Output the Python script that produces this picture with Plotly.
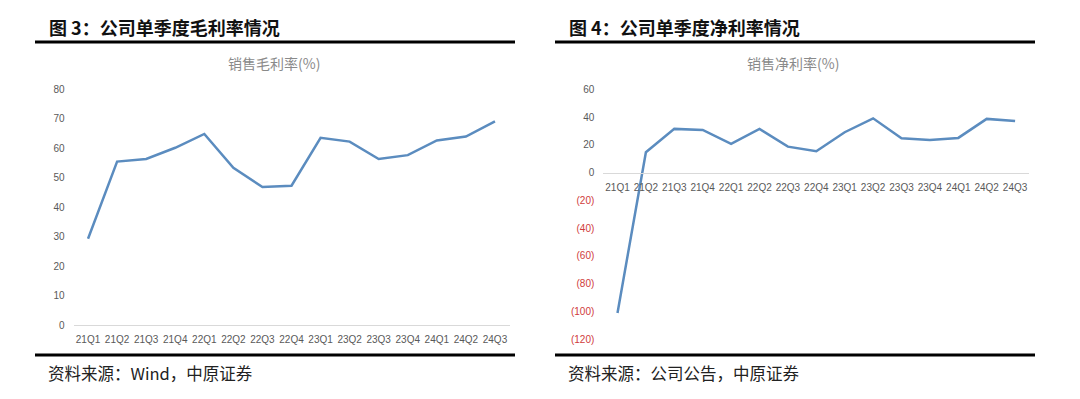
import plotly.graph_objects as go

# ---- data ----
quarters = ["21Q1", "21Q2", "21Q3", "21Q4", "22Q1", "22Q2", "22Q3", "22Q4",
            "23Q1", "23Q2", "23Q3", "23Q4", "24Q1", "24Q2", "24Q3"]
gross_margin = [29.3, 55.5, 56.4, 60.2, 64.9, 53.4, 46.9, 47.3,
                63.6, 62.3, 56.4, 57.7, 62.7, 64.0, 69.2]
net_margin = [-101.0, 14.7, 31.5, 30.7, 20.7, 31.5, 18.7, 15.4,
              29.1, 39.1, 24.7, 23.5, 25.0, 38.7, 37.2]
gm_ticks = [0, 10, 20, 30, 40, 50, 60, 70, 80]
nm_ticks = [-120, -100, -80, -60, -40, -20, 0, 20, 40, 60]

titles = ["图 3：公司单季度毛利率情况", "图 4：公司单季度净利率情况"]
subtitles = ["销售毛利率(%)", "销售净利率(%)"]
sources = ["资料来源：Wind，中原证券", "资料来源：公司公告，中原证券"]

# page body has an 8px margin; figure covers window pixels 8..1072 x 8..391
OFF = 8
W, H = 1064, 383
def fx(x):
    return (x - OFF) / W
def fy(y):
    return 1 - (y - OFF) / H

LINE = "#5B8CBF"
TICK = "#595959"
NEG = "#D03B3B"
AXIS = "#D9D9D9"
CJK = "Noto Sans CJK SC"

def fmt(v):
    if v < 0:
        return f'<span style="color:{NEG}">({abs(v)})</span>'
    return str(v)

fig = go.Figure()
fig.add_trace(go.Scatter(x=quarters, y=gross_margin, mode="lines",
                         line=dict(color=LINE, width=2.5),
                         xaxis="x", yaxis="y", hoverinfo="x+y"))
fig.add_trace(go.Scatter(x=quarters, y=net_margin, mode="lines",
                         line=dict(color=LINE, width=2.5),
                         xaxis="x2", yaxis="y2", hoverinfo="x+y"))

# domains (pixels -> paper)
y1_dom = [fy(325), fy(89.5)]
y2_dom = [fy(339.3), fy(89.3)]
y2_range = [min(nm_ticks), max(nm_ticks)]
zero_pos = y2_dom[0] + (0 - y2_range[0]) / (y2_range[1] - y2_range[0]) * (y2_dom[1] - y2_dom[0])
x_range = [-0.5, len(quarters) - 0.5]

tickfont = dict(family="Liberation Sans, Arial", size=10, color=TICK)
NOTICK = "rgba(0,0,0,0)"

fig.update_layout(
    template="none",
    width=W, height=H,
    margin=dict(l=0, r=0, t=0, b=0, pad=0, autoexpand=False),
    paper_bgcolor="white", plot_bgcolor="white",
    showlegend=False,
    xaxis=dict(domain=[fx(73.5), fx(509.5)], anchor="y", type="category",
               range=x_range,
               showgrid=False, showline=True, linecolor=AXIS, linewidth=1,
               ticks="outside", ticklen=5, tickcolor=NOTICK,
               tickfont=tickfont, zeroline=False, fixedrange=True,
               automargin=False),
    yaxis=dict(domain=y1_dom, anchor="x", range=[min(gm_ticks), max(gm_ticks)],
               tickvals=gm_ticks, ticktext=[fmt(v) for v in gm_ticks],
               showgrid=False, showline=False, zeroline=False, ticks="",
               tickfont=tickfont, ticklabelstandoff=8, fixedrange=True,
               automargin=False),
    xaxis2=dict(domain=[fx(603.3), fx(1029.3)], anchor="free", position=zero_pos,
                type="category", range=x_range,
                showgrid=False, showline=True, linecolor=AXIS,
                linewidth=1, ticks="outside", ticklen=5, tickcolor=NOTICK,
                tickfont=tickfont, zeroline=False,
                fixedrange=True, automargin=False),
    yaxis2=dict(domain=y2_dom, anchor="x2", range=y2_range,
                tickvals=nm_ticks, ticktext=[fmt(v) for v in nm_ticks],
                showgrid=False, showline=False, zeroline=False, ticks="",
                tickfont=tickfont, ticklabelstandoff=8, fixedrange=True,
                automargin=False),
)

anns = []
shapes = []
panels = [(35, 515, 47, 274), (555, 1035, 567, 793)]
for i, (x0, x1, tx, sx) in enumerate(panels):
    anns.append(dict(x=fx(tx), y=fy(27), xref="paper", yref="paper",
                     text=f"<b>{titles[i]}</b>", showarrow=False,
                     xanchor="left", yanchor="middle",
                     font=dict(family=CJK, size=18, color="#111111")))
    anns.append(dict(x=fx(sx), y=fy(63), xref="paper", yref="paper",
                     text=subtitles[i], showarrow=False,
                     xanchor="center", yanchor="middle",
                     font=dict(family=CJK, size=14, color="#8A8A8A")))
    anns.append(dict(x=fx(tx - 1), y=fy(373), xref="paper", yref="paper",
                     text=sources[i], showarrow=False,
                     xanchor="left", yanchor="middle",
                     font=dict(family=CJK, size=16.5, color="#222222")))
    for yy in (42, 355):
        shapes.append(dict(type="line", xref="paper", yref="paper",
                           x0=fx(x0), x1=fx(x1), y0=fy(yy), y1=fy(yy),
                           line=dict(color="black", width=3)))

fig.update_layout(annotations=anns, shapes=shapes)
fig.write_html("out.html")
